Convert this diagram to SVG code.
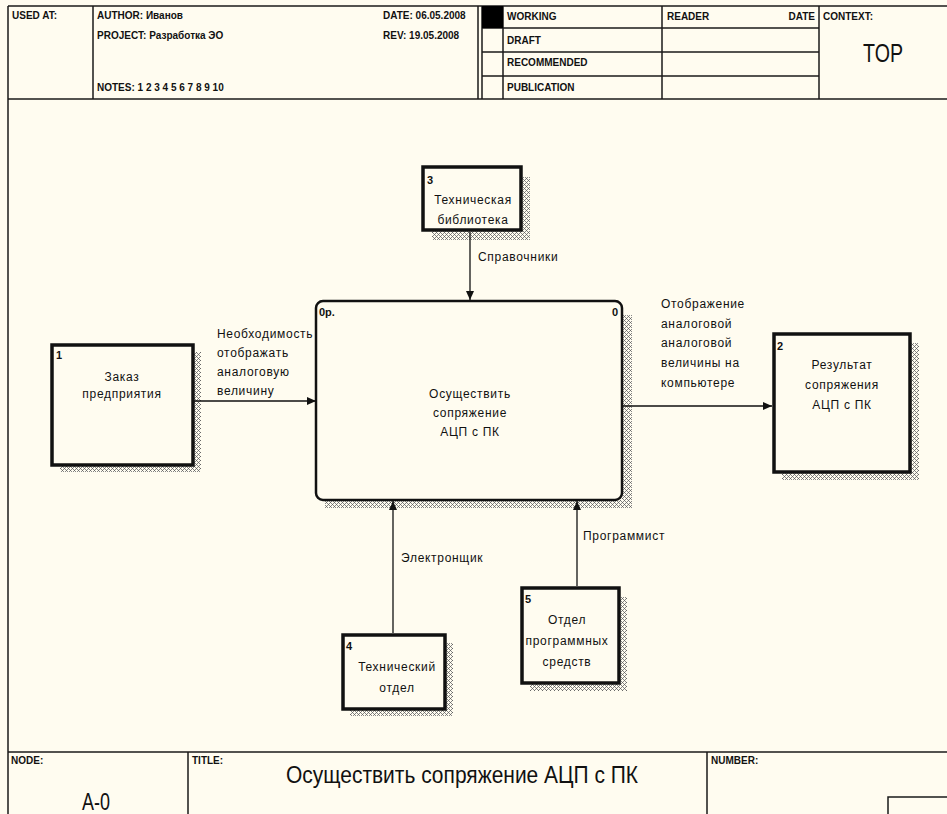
<svg xmlns="http://www.w3.org/2000/svg" width="947" height="814" viewBox="0 0 947 814">
<style>
.ln{stroke:#1a1a1a;stroke-width:1.5;fill:none}
.hd{font-family:"Liberation Sans",Arial,sans-serif;font-size:10px;font-weight:bold;fill:#111}
.big{font-family:"Liberation Sans",Arial,sans-serif;font-weight:normal;fill:#111}
.t{font-family:"Liberation Sans",Arial,sans-serif;font-size:12px;letter-spacing:0.7px;fill:#111}
.tc{font-family:"Liberation Sans",Arial,sans-serif;font-size:12px;letter-spacing:0.7px;fill:#111;text-anchor:middle}
.num{font-family:"Liberation Sans",Arial,sans-serif;font-size:11px;font-weight:bold;fill:#111}
.box{fill:#FFFCF0;stroke:#111;stroke-width:3.5}
.sh{fill:url(#hatch)}
.con{stroke:#111;stroke-width:1.3;fill:none;marker-end:url(#ah)}
</style>
<defs>
<pattern id="hatch" width="4" height="4" patternUnits="userSpaceOnUse">
<rect width="4" height="4" fill="#FFFCF0"/>
<rect x="0" y="0" width="1" height="1" fill="#666"/>
<rect x="1" y="1" width="1" height="1" fill="#888"/>
<rect x="2" y="2" width="1" height="1" fill="#666"/>
<rect x="1" y="3" width="1" height="1" fill="#888"/>
<rect x="3" y="1" width="1" height="1" fill="#888"/>
<rect x="3" y="3" width="1" height="1" fill="#888"/>
</pattern>
<marker id="ah" markerWidth="9" markerHeight="8" refX="9" refY="4" orient="auto" markerUnits="userSpaceOnUse">
<path d="M0 0 L9 4 L0 8 Z" fill="#111"/>
</marker>
</defs>
<rect width="947" height="814" fill="#FFFCF0"/>

<g id="frame">
<line class="ln" x1="8" y1="6" x2="947" y2="6"/>
<line class="ln" x1="8" y1="6" x2="8" y2="814"/>
<line class="ln" x1="8" y1="99" x2="947" y2="99"/>
<line class="ln" x1="93" y1="6" x2="93" y2="99"/>
<line class="ln" x1="478" y1="6" x2="478" y2="99"/>
<line class="ln" x1="482" y1="6" x2="482" y2="99"/>
<line class="ln" x1="503" y1="6" x2="503" y2="99"/>
<line class="ln" x1="662" y1="6" x2="662" y2="99"/>
<line class="ln" x1="819" y1="6" x2="819" y2="99"/>
<line class="ln" x1="482" y1="28" x2="819" y2="28"/>
<line class="ln" x1="482" y1="52" x2="819" y2="52"/>
<line class="ln" x1="482" y1="76" x2="819" y2="76"/>
<rect x="482" y="6" width="21" height="22" fill="#000"/>
<text class="hd" x="12" y="19">USED AT:</text>
<text class="hd" x="97" y="19">AUTHOR: Иванов</text>
<text class="hd" x="97" y="39">PROJECT: Разработка ЭО</text>
<text class="hd" x="97" y="91">NOTES: 1 2 3 4 5 6 7 8 9 10</text>
<text class="hd" x="383" y="19">DATE: 06.05.2008</text>
<text class="hd" x="383" y="39">REV:    19.05.2008</text>
<text class="hd" x="507" y="20">WORKING</text>
<text class="hd" x="507" y="44">DRAFT</text>
<text class="hd" x="507" y="66">RECOMMENDED</text>
<text class="hd" x="507" y="91">PUBLICATION</text>
<text class="hd" x="667" y="20">READER</text>
<text class="hd" x="815" y="20" text-anchor="end">DATE</text>
<text class="hd" x="823" y="20">CONTEXT:</text>
<text class="big" x="863" y="62" font-size="26" textLength="40" lengthAdjust="spacingAndGlyphs">TOP</text>

<line class="ln" x1="8" y1="752" x2="947" y2="752"/>
<line class="ln" x1="188" y1="752" x2="188" y2="814"/>
<line class="ln" x1="707" y1="752" x2="707" y2="814"/>
<polyline class="ln" points="888,814 888,797 947,797"/>
<text class="hd" x="11" y="764" font-size="9">NODE:</text>
<text class="hd" x="192" y="764" font-size="9">TITLE:</text>
<text class="hd" x="711" y="764" font-size="9">NUMBER:</text>
<text class="big" x="82" y="810" font-size="24" textLength="28" lengthAdjust="spacingAndGlyphs">A-0</text>
<text class="big" x="286" y="783" font-size="24" textLength="352" lengthAdjust="spacingAndGlyphs">Осуществить  сопряжение  АЦП с ПК</text>
</g>

<g id="node0">
<rect class="sh" x="622" y="315" width="10" height="193"/>
<rect class="sh" x="325" y="500" width="307" height="8"/>
<rect x="316" y="301" width="306" height="199" rx="7" fill="#FFFCF0" stroke="#111" stroke-width="2.5"/>
<text class="num" x="319" y="316">0р.</text>
<text class="num" x="612" y="316">0</text>
<text class="tc" x="470" y="398">Осуществить</text>
<text class="tc" x="470" y="417">сопряжение</text>
<text class="tc" x="470" y="436">АЦП с ПК</text>
</g>

<g id="node1">
<rect class="sh" x="193" y="352" width="8" height="120"/>
<rect class="sh" x="60" y="465" width="141" height="7"/>
<rect class="box" x="52" y="345" width="141" height="120"/>
<text class="num" x="56" y="359">1</text>
<text class="tc" x="122" y="381">Заказ</text>
<text class="tc" x="122" y="398">предприятия</text>
</g>

<g id="node2">
<rect class="sh" x="910" y="343" width="9" height="137"/>
<rect class="sh" x="782" y="472" width="137" height="8"/>
<rect class="box" x="774" y="334" width="136" height="138"/>
<text class="num" x="777" y="350">2</text>
<text class="tc" x="842" y="369">Результат</text>
<text class="tc" x="842" y="389">сопряжения</text>
<text class="tc" x="842" y="409">АЦП с ПК</text>
</g>

<g id="node3">
<rect class="sh" x="521" y="177" width="9" height="63"/>
<rect class="sh" x="432" y="230" width="98" height="10"/>
<rect class="box" x="423" y="167" width="98" height="63"/>
<text class="num" x="427" y="184">3</text>
<text class="tc" x="473" y="204">Техническая</text>
<text class="tc" x="473" y="224">библиотека</text>
</g>

<g id="node4">
<rect class="sh" x="445" y="643" width="8" height="73"/>
<rect class="sh" x="350" y="709" width="103" height="7"/>
<rect class="box" x="343" y="635" width="102" height="74"/>
<text class="num" x="346" y="650">4</text>
<text class="tc" x="397" y="671">Технический</text>
<text class="tc" x="397" y="692">отдел</text>
</g>

<g id="node5">
<rect class="sh" x="619" y="597" width="8" height="94"/>
<rect class="sh" x="530" y="683" width="97" height="8"/>
<rect class="box" x="522" y="588" width="97" height="95"/>
<text class="num" x="525" y="603">5</text>
<text class="tc" x="567" y="624">Отдел</text>
<text class="tc" x="567" y="645">программных</text>
<text class="tc" x="567" y="666">средств</text>
</g>

<g id="connectors">
<line class="con" x1="193" y1="401" x2="316" y2="401"/>
<line class="con" x1="622" y1="406" x2="772" y2="406"/>
<line class="con" x1="470" y1="232" x2="470" y2="300"/>
<line class="con" x1="393" y1="633" x2="393" y2="501"/>
<line class="con" x1="577" y1="586" x2="577" y2="501"/>
<text class="t" x="217" y="338">Необходимость</text>
<text class="t" x="217" y="357">отображать</text>
<text class="t" x="217" y="376">аналоговую</text>
<text class="t" x="217" y="395">величину</text>
<text class="t" x="661" y="308">Отображение</text>
<text class="t" x="661" y="328">аналоговой</text>
<text class="t" x="661" y="347">аналоговой</text>
<text class="t" x="661" y="367">величины на</text>
<text class="t" x="661" y="387">компьютере</text>
<text class="t" x="478" y="261">Справочники</text>
<text class="t" x="401" y="562">Электронщик</text>
<text class="t" x="583" y="540">Программист</text>
</g>
</svg>
